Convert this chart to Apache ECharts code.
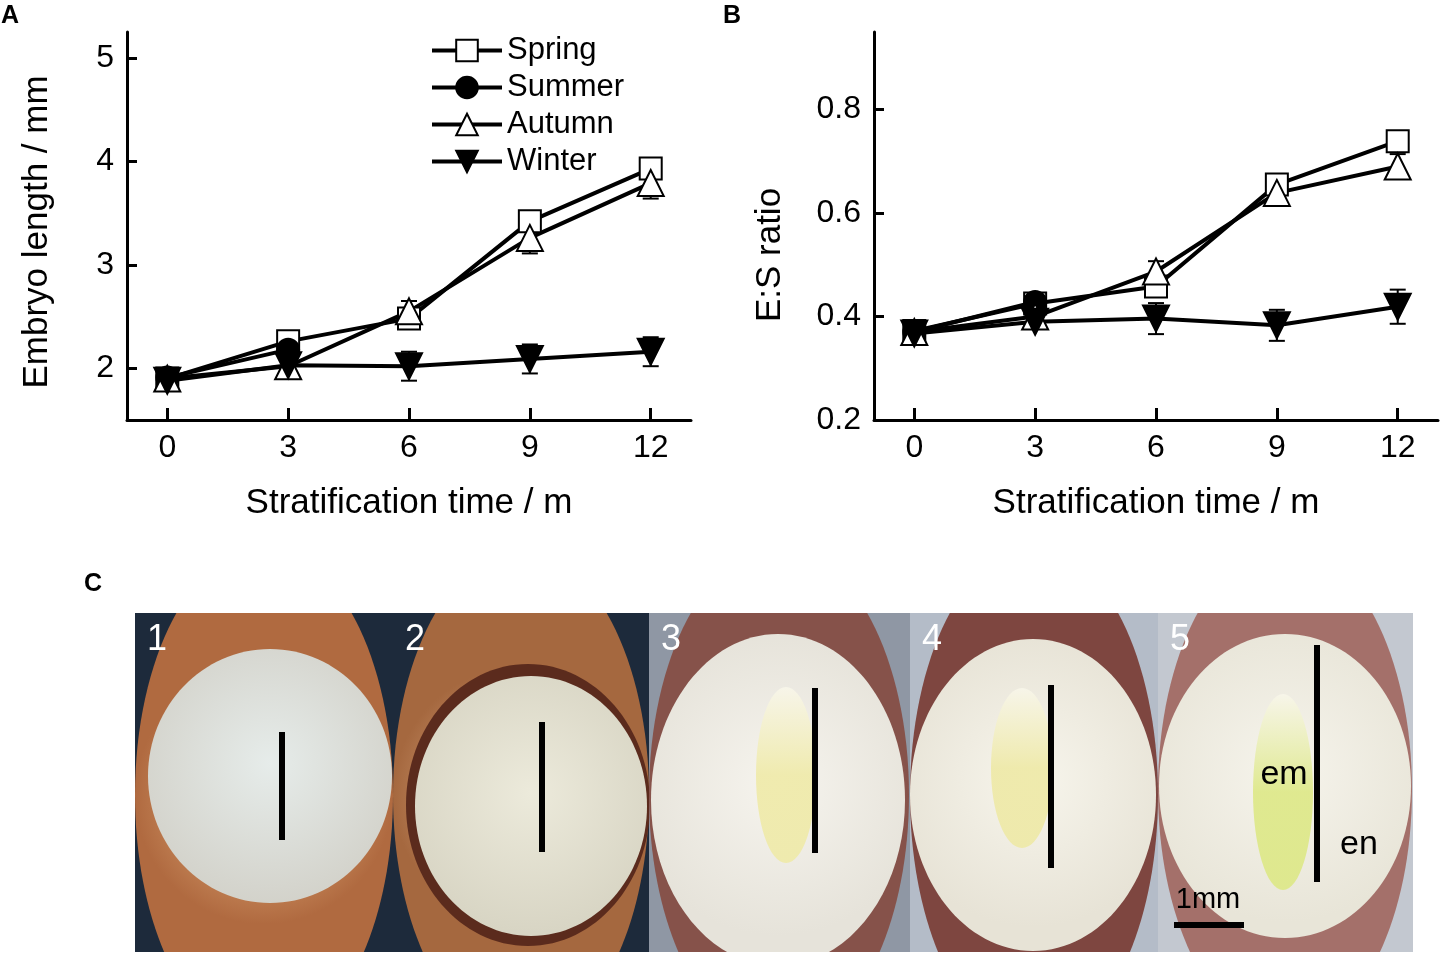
<!DOCTYPE html>
<html>
<head>
<meta charset="utf-8">
<title>Embryo growth during stratification</title>
<script src="https://cdn.jsdelivr.net/npm/echarts@6/dist/echarts.min.js"></script>
<style>
  html, body { margin: 0; padding: 0; background: #fff; }
  #chart { width: 1441px; height: 954px; }
</style>
</head>
<body>
<div id="chart"></div>
<script>
// stratification months and tick values
const months = [0, 3, 6, 9, 12];
const monthTicks = [0, 3, 6, 9, 12];
const lengthTicks = [2, 3, 4, 5];
const ratioTicks = [0.2, 0.4, 0.6, 0.8];
const seasons = ['Spring', 'Summer', 'Autumn', 'Winter'];

// A: embryo length (mm)
const lenSpring = [1.90, 2.26, 2.48, 3.42, 3.93];
const lenSummer = [1.91, 2.18];
const lenAutumn = [1.90, 2.02, 2.55, 3.26, 3.79];
const lenWinter = [1.88, 2.03, 2.02, 2.09, 2.16];
const lenSpringErr = [0.04, 0.08, 0.10, 0.10, 0.10];
const lenSummerErr = [0.04, 0.08];
const lenAutumnErr = [0.04, 0.06, 0.10, 0.15, 0.15];
const lenWinterErr = [0.05, 0.06, 0.14, 0.14, 0.14];

// B: embryo to seed ratio
const ratioSpring = [0.372, 0.425, 0.458, 0.655, 0.739];
const ratioSummer = [0.370, 0.428];
const ratioAutumn = [0.370, 0.400, 0.487, 0.639, 0.690];
const ratioWinter = [0.367, 0.390, 0.396, 0.383, 0.419];
const ratioSpringErr = [0.010, 0.010, 0.013, 0.012, 0.010];
const ratioSummerErr = [0.010, 0.010];
const ratioAutumnErr = [0.010, 0.010, 0.020, 0.020, 0.024];
const ratioWinterErr = [0.010, 0.012, 0.030, 0.030, 0.033];

const FONT = '"Liberation Sans", Arial, sans-serif';

const marker = {
  Spring: { symbol: 'rect', symbolSize: 22, symbolRotate: 0, fill: '#fff' },
  Summer: { symbol: 'circle', symbolSize: 22, symbolRotate: 0, fill: '#000' },
  Autumn: { symbol: 'triangle', symbolSize: 26, symbolRotate: 0, fill: '#fff' },
  Winter: { symbol: 'triangle', symbolSize: 26, symbolRotate: 180, fill: '#000' }
};

function lineSeries(name, vals, idx) {
  const m = marker[name];
  return {
    name: name,
    type: 'line',
    xAxisIndex: idx,
    yAxisIndex: idx,
    data: vals.map((v, i) => [months[i], v]),
    symbol: m.symbol,
    symbolSize: m.symbolSize,
    symbolRotate: m.symbolRotate,
    showAllSymbol: true,
    lineStyle: { color: '#000', width: 4 },
    itemStyle: { color: m.fill, borderColor: '#000', borderWidth: 2 },
    z: 3
  };
}

function renderErr(params, api) {
  const x = api.value(0), y = api.value(1), e = api.value(2);
  const hi = api.coord([x, y + e]);
  const lo = api.coord([x, y - e]);
  const c = 8;
  const st = { stroke: '#000', lineWidth: 2 };
  return {
    type: 'group',
    children: [
      { type: 'line', shape: { x1: hi[0], y1: hi[1], x2: lo[0], y2: lo[1] }, style: st },
      { type: 'line', shape: { x1: hi[0] - c, y1: hi[1], x2: hi[0] + c, y2: hi[1] }, style: st },
      { type: 'line', shape: { x1: lo[0] - c, y1: lo[1], x2: lo[0] + c, y2: lo[1] }, style: st }
    ]
  };
}

function errSeries(name, vals, errs, idx) {
  return {
    name: name + ' error',
    type: 'custom',
    xAxisIndex: idx,
    yAxisIndex: idx,
    renderItem: renderErr,
    encode: { x: 0, y: 1 },
    data: vals.map((v, i) => [months[i], v, errs[i]]),
    z: 2,
    silent: true
  };
}

function xAxis(idx) {
  return {
    type: 'value',
    gridIndex: idx,
    min: -1,
    max: 13,
    axisLine: { show: true, onZero: false, lineStyle: { color: '#000', width: 3 } },
    axisTick: { show: true, inside: true, length: 12, lineStyle: { color: '#000', width: 3 }, customValues: monthTicks },
    axisLabel: { customValues: monthTicks, color: '#000', fontSize: 32, margin: 12, fontFamily: FONT },
    splitLine: { show: false },
    name: 'Stratification time / m',
    nameLocation: 'middle',
    nameGap: 66,
    nameTextStyle: { color: '#000', fontSize: 35, fontFamily: FONT }
  };
}

function yAxis(idx, min, max, ticks, name, gap, pad) {
  return {
    type: 'value',
    gridIndex: idx,
    min: min,
    max: max,
    axisLine: { show: true, onZero: false, lineStyle: { color: '#000', width: 3 } },
    axisTick: { show: true, inside: true, length: 10, lineStyle: { color: '#000', width: 3 }, customValues: ticks },
    axisLabel: { customValues: ticks, color: '#000', fontSize: 32, margin: 13, fontFamily: FONT },
    splitLine: { show: false },
    name: name,
    nameLocation: 'middle',
    nameGap: gap,
    nameTextStyle: { color: '#000', fontSize: 35, fontFamily: FONT, padding: pad }
  };
}

// panel C: stylised seed sections (picture, not data)
function seedPanels() {
  const top = 613, h = 339;
  const panels = [
    { n: '1', x: 135, w: 258, bg: '#1d2a3b', coat: ['#c88a5c', '#b06a40'], coatE: [264, 795, 129, 248],
      ring: null, inner: [270, 776, 122, 127], innerC: ['#e6ecea', '#d2d1c9'], emb: null, bar: [279, 732, 108] },
    { n: '2', x: 393, w: 256, bg: '#1d2a3b', coat: ['#c28a62', '#a5683f'], coatE: [521, 795, 128, 245],
      ring: [528, 805, 122, 141], inner: [531, 806, 116, 130], innerC: ['#eceadb', '#d8d5c4'], emb: null, bar: [539, 722, 130] },
    { n: '3', x: 649, w: 261, bg: '#8f97a4', coat: ['#a8746a', '#86524a'], coatE: [779, 795, 130, 248],
      ring: null, inner: [778, 800, 127, 166], innerC: ['#f6f4ee', '#e6e3da'], emb: [786, 775, 30, 88, '#efeaa8'], bar: [812, 688, 165] },
    { n: '4', x: 910, w: 248, bg: '#b4bcc8', coat: ['#a06a62', '#7e4640'], coatE: [1034, 795, 124, 248],
      ring: null, inner: [1033, 795, 123, 156], innerC: ['#f7f5ec', '#e7e3d6'], emb: [1022, 768, 31, 80, '#eee9a6'], bar: [1048, 685, 183] },
    { n: '5', x: 1158, w: 255, bg: '#c3c8d0', coat: ['#c39a92', '#a4706a'], coatE: [1285, 790, 127, 244],
      ring: null, inner: [1285, 786, 126, 152], innerC: ['#f6f4ec', '#e8e5d8'], emb: [1283, 792, 30, 98, '#dde886'], bar: [1314, 645, 237] }
  ];
  const els = [];
  panels.forEach(p => {
    els.push({ type: 'rect', shape: { x: p.x, y: top, width: p.w, height: h }, style: { fill: p.bg } });
    els.push({ type: 'ellipse', shape: { cx: p.coatE[0], cy: p.coatE[1], rx: p.coatE[2], ry: p.coatE[3] },
      style: { fill: { type: 'radial', x: 0.5, y: 0.5, r: 0.5, colorStops: [{ offset: 0.6, color: p.coat[0] }, { offset: 1, color: p.coat[1] }] } } });
    if (p.ring) {
      els.push({ type: 'ellipse', shape: { cx: p.ring[0], cy: p.ring[1], rx: p.ring[2], ry: p.ring[3] }, style: { fill: '#5b2b1d' } });
    }
    els.push({ type: 'ellipse', shape: { cx: p.inner[0], cy: p.inner[1], rx: p.inner[2], ry: p.inner[3] },
      style: { fill: { type: 'radial', x: 0.5, y: 0.45, r: 0.6, colorStops: [{ offset: 0, color: p.innerC[0] }, { offset: 1, color: p.innerC[1] }] } } });
    if (p.emb) {
      els.push({ type: 'ellipse', shape: { cx: p.emb[0], cy: p.emb[1], rx: p.emb[2], ry: p.emb[3] },
        style: { fill: { type: 'linear', x: 0, y: 0, x2: 0, y2: 1, colorStops: [{ offset: 0, color: '#f8f6ea' }, { offset: 0.5, color: p.emb[4] }, { offset: 1, color: p.emb[4] }] }, opacity: 0.9 } });
    }
    els.push({ type: 'rect', shape: { x: p.bar[0], y: p.bar[1], width: 6, height: p.bar[2] }, style: { fill: '#000' }, z: 5 });
    els.push({ type: 'text', x: p.x + 22, y: 640, style: { text: p.n, fill: '#fff', font: '36px ' + FONT, textAlign: 'center', textVerticalAlign: 'middle' }, z: 5 });
  });
  // crop the seeds to the photo strip
  els.push({ type: 'rect', shape: { x: 120, y: 540, width: 1320, height: 73 }, style: { fill: '#fff' }, z: 4 });
  els.push({ type: 'rect', shape: { x: 120, y: 952, width: 1320, height: 10 }, style: { fill: '#fff' }, z: 4 });
  els.push({ type: 'rect', shape: { x: 110, y: 600, width: 25, height: 360 }, style: { fill: '#fff' }, z: 4 });
  els.push({ type: 'rect', shape: { x: 1413, y: 600, width: 28, height: 360 }, style: { fill: '#fff' }, z: 4 });
  // labels inside the last photo
  els.push({ type: 'text', x: 1284, y: 775, style: { text: 'em', fill: '#000', font: '34px ' + FONT, textAlign: 'center', textVerticalAlign: 'middle' }, z: 5 });
  els.push({ type: 'text', x: 1359, y: 845, style: { text: 'en', fill: '#000', font: '34px ' + FONT, textAlign: 'center', textVerticalAlign: 'middle' }, z: 5 });
  els.push({ type: 'text', x: 1208, y: 900, style: { text: '1mm', fill: '#000', font: '29px ' + FONT, textAlign: 'center', textVerticalAlign: 'middle' }, z: 5 });
  els.push({ type: 'rect', shape: { x: 1174, y: 922, width: 70, height: 6 }, style: { fill: '#000' }, z: 5 });
  return els;
}

const panelLetters = [
  { type: 'text', x: 1, y: 4, style: { text: 'A', fill: '#000', fontSize: 25, fontWeight: 'bold', fontFamily: FONT } },
  { type: 'text', x: 723, y: 4, style: { text: 'B', fill: '#000', fontSize: 25, fontWeight: 'bold', fontFamily: FONT } },
  { type: 'text', x: 84, y: 572, style: { text: 'C', fill: '#000', fontSize: 25, fontWeight: 'bold', fontFamily: FONT }, z: 6 }
];

const chart = echarts.init(document.getElementById('chart'), null, { renderer: 'canvas' });

const option = {
  backgroundColor: '#fff',
  animation: false,
  textStyle: { fontFamily: FONT },
  grid: [
    { left: 127, top: 32, width: 564, height: 388 },
    { left: 874, top: 32, width: 564, height: 388 }
  ],
  xAxis: [xAxis(0), xAxis(1)],
  yAxis: [
    yAxis(0, 1.5, 5.25, lengthTicks, 'Embryo length / mm', 72, [0, 12, 0, 0]),
    yAxis(1, 0.2, 0.95, ratioTicks, 'E:S ratio', 86, [0, 58, 0, 0])
  ],
  legend: {
    data: seasons,
    orient: 'vertical',
    left: 430,
    top: 35,
    padding: 0,
    itemGap: 6,
    itemWidth: 70,
    itemHeight: 27,
    lineStyle: { color: '#000', width: 4 },
    textStyle: { color: '#000', fontSize: 31, fontFamily: FONT },
    selectedMode: false
  },
  series: [
    errSeries('Spring', lenSpring, lenSpringErr, 0),
    errSeries('Summer', lenSummer, lenSummerErr, 0),
    errSeries('Autumn', lenAutumn, lenAutumnErr, 0),
    errSeries('Winter', lenWinter, lenWinterErr, 0),
    lineSeries('Spring', lenSpring, 0),
    lineSeries('Summer', lenSummer, 0),
    lineSeries('Autumn', lenAutumn, 0),
    lineSeries('Winter', lenWinter, 0),
    errSeries('Spring', ratioSpring, ratioSpringErr, 1),
    errSeries('Summer', ratioSummer, ratioSummerErr, 1),
    errSeries('Autumn', ratioAutumn, ratioAutumnErr, 1),
    errSeries('Winter', ratioWinter, ratioWinterErr, 1),
    lineSeries('Spring', ratioSpring, 1),
    lineSeries('Summer', ratioSummer, 1),
    lineSeries('Autumn', ratioAutumn, 1),
    lineSeries('Winter', ratioWinter, 1)
  ],
  graphic: panelLetters.concat(seedPanels())
};

chart.setOption(option);
</script>
</body>
</html>
